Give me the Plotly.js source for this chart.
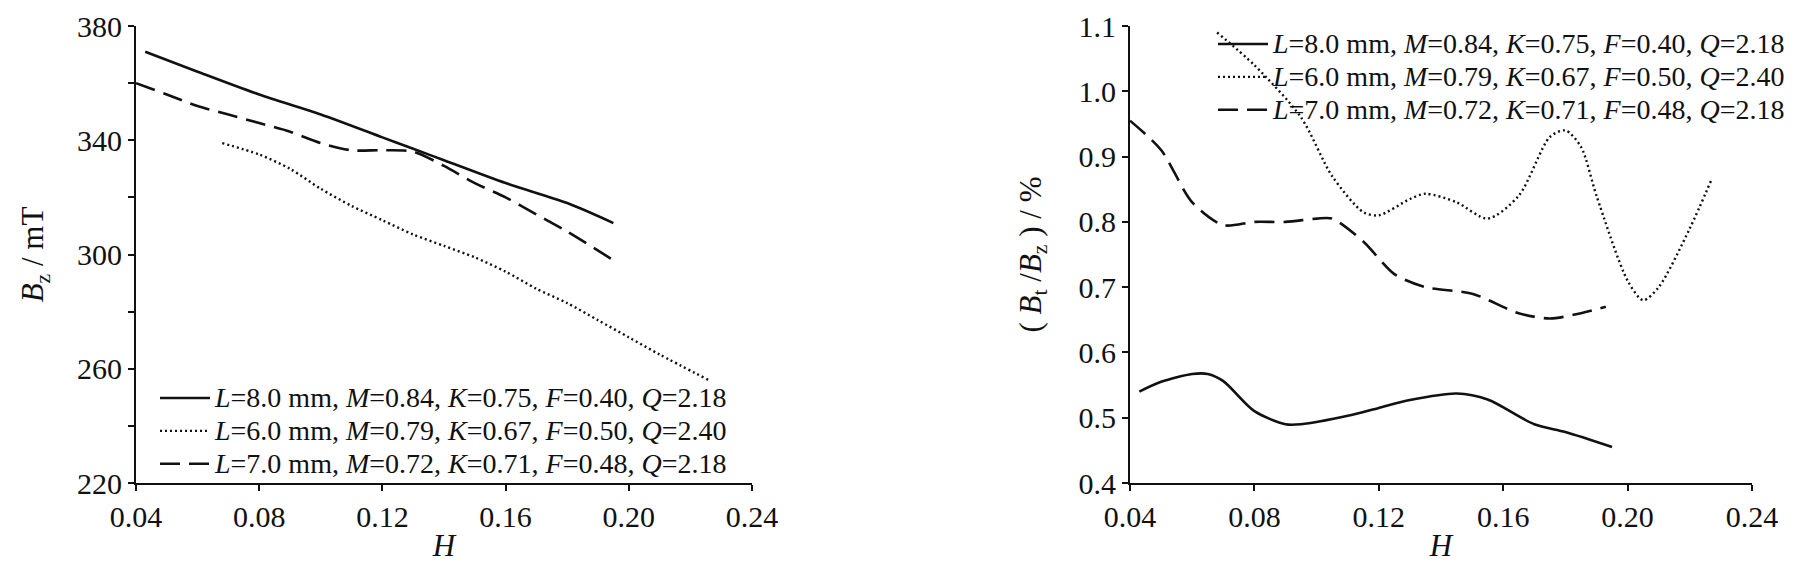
<!DOCTYPE html>
<html>
<head>
<meta charset="utf-8">
<script src="https://cdn.plot.ly/plotly-3.0.1.min.js"></script>
<style>html,body{margin:0;padding:0;background:#fff;}#chart{width:1806px;height:576px;}</style>
</head>
<body>
<div id="chart"></div>
<script>
// ---- data ----
const seriesNames = [
  "<i>L</i>=8.0 mm, <i>M</i>=0.84, <i>K</i>=0.75, <i>F</i>=0.40, <i>Q</i>=2.18",
  "<i>L</i>=6.0 mm, <i>M</i>=0.79, <i>K</i>=0.67, <i>F</i>=0.50, <i>Q</i>=2.40",
  "<i>L</i>=7.0 mm, <i>M</i>=0.72, <i>K</i>=0.71, <i>F</i>=0.48, <i>Q</i>=2.18"
];
// Left panel: Bz (mT) vs H
const bzH_L8 = [0.043, 0.06, 0.08, 0.10, 0.12, 0.13, 0.14, 0.16, 0.18, 0.195];
const bz_L8  = [371, 364, 356, 349, 341, 337, 333, 325, 318, 311];
const bzH_L6 = [0.068, 0.08, 0.09, 0.10, 0.11, 0.12, 0.13, 0.14, 0.15, 0.16, 0.17, 0.18, 0.19, 0.20, 0.21, 0.226];
const bz_L6  = [339, 335, 330, 323, 317, 312, 307, 303, 299, 294, 288, 283, 277, 271, 265, 256];
const bzH_L7 = [0.04, 0.05, 0.06, 0.07, 0.08, 0.09, 0.10, 0.11, 0.12, 0.13, 0.14, 0.15, 0.16, 0.17, 0.18, 0.195];
const bz_L7  = [360, 356, 352, 349, 346, 343, 339, 336.5, 336.5, 336, 331, 325, 320, 314, 308, 298];
// Right panel: (Bt/Bz) % vs H
const rH_L8 = [0.043, 0.05, 0.06, 0.065, 0.07, 0.08, 0.09, 0.095, 0.11, 0.12, 0.13, 0.145, 0.155, 0.17, 0.18, 0.195];
const r_L8  = [0.54, 0.555, 0.567, 0.567, 0.556, 0.51, 0.49, 0.49, 0.503, 0.515, 0.527, 0.537, 0.528, 0.49, 0.478, 0.455];
const rH_L6 = [0.068, 0.08, 0.095, 0.105, 0.115, 0.12, 0.13, 0.135, 0.145, 0.155, 0.165, 0.175, 0.18, 0.185, 0.19, 0.20, 0.205, 0.21, 0.22, 0.227];
const r_L6  = [1.09, 1.04, 0.96, 0.87, 0.815, 0.81, 0.835, 0.843, 0.83, 0.805, 0.84, 0.93, 0.94, 0.915, 0.84, 0.71, 0.68, 0.70, 0.79, 0.865];
const rH_L7 = [0.04, 0.05, 0.06, 0.07, 0.08, 0.09, 0.10, 0.105, 0.115, 0.125, 0.135, 0.15, 0.165, 0.175, 0.185, 0.193];
const r_L7  = [0.955, 0.91, 0.83, 0.795, 0.80, 0.80, 0.805, 0.805, 0.77, 0.72, 0.70, 0.69, 0.66, 0.652, 0.66, 0.67];

const xTicks = [0.04, 0.08, 0.12, 0.16, 0.20, 0.24];
const leftYTicks = [220, 260, 300, 340, 380];
const rightYTicks = [0.4, 0.5, 0.6, 0.7, 0.8, 0.9, 1.0, 1.1];

// ---- styling ----
const FONT = "Liberation Serif";
const W = 1806, H = 576;
const styles = [
  {color: "#111", width: 2.6, dash: "solid"},
  {color: "#111", width: 2.4, dash: "2px,3px"},
  {color: "#111", width: 2.6, dash: "20px,9px"}
];
function legendLabel(s) { return '<span style="font-size:28px">' + s + '</span>'; }
function tr(x, y, i, xa, ya, leg) {
  return {x: x, y: y, type: "scatter", mode: "lines", name: legendLabel(seriesNames[i]),
    line: Object.assign({shape: "spline", smoothing: 0.8}, styles[i]),
    xaxis: xa, yaxis: ya, legend: leg, showlegend: true, hoverinfo: "skip"};
}
const data = [
  tr(bzH_L8, bz_L8, 0, "x", "y", "legend"),
  tr(bzH_L6, bz_L6, 1, "x", "y", "legend"),
  tr(bzH_L7, bz_L7, 2, "x", "y", "legend"),
  tr(rH_L8, r_L8, 0, "x2", "y2", "legend2"),
  tr(rH_L6, r_L6, 1, "x2", "y2", "legend2"),
  tr(rH_L7, r_L7, 2, "x2", "y2", "legend2")
];
const tickFont = {family: FONT, size: 30, color: "#111"};
const titleFont = {family: FONT, size: 31, color: "#111"};
const axCommon = {showline: true, linecolor: "#111", linewidth: 2, ticks: "outside", ticklen: 6,
  tickwidth: 2, tickcolor: "#111", showgrid: false, zeroline: false, mirror: false,
  tickfont: tickFont, automargin: false, fixedrange: true};
const yDom = [1 - 483 / H, 1 - 26 / H];
const legendCommon = {xanchor: "left", yanchor: "middle", bgcolor: "rgba(0,0,0,0)",
  font: {family: FONT, size: 23, color: "#111"}, tracegroupgap: 0, itemwidth: 50, itemclick: false};
const layout = {
  width: W, height: H, margin: {l: 0, r: 0, t: 0, b: 0},
  paper_bgcolor: "#fff", plot_bgcolor: "#fff", showlegend: true,
  font: {family: FONT, color: "#111", size: 28},
  xaxis: Object.assign({}, axCommon, {domain: [136 / W, 752 / W], range: [0.04, 0.24],
    tickvals: xTicks, tickformat: ".2f", anchor: "y",
    title: {text: "<i>H</i>", font: titleFont, standoff: 2}}),
  yaxis: Object.assign({}, axCommon, {domain: yDom, range: [220, 380], tickvals: leftYTicks, anchor: "x",
    minor: {dtick: 20, ticklen: 6, tickwidth: 2, tickcolor: "#111", ticks: "outside"},
    title: {text: "<i>B</i><sub>z</sub> / mT", font: titleFont, standoff: 24}}),
  xaxis2: Object.assign({}, axCommon, {domain: [1130 / W, 1752 / W], range: [0.04, 0.24],
    tickvals: xTicks, tickformat: ".2f", anchor: "y2",
    title: {text: "<i>H</i>", font: titleFont, standoff: 2}}),
  yaxis2: Object.assign({}, axCommon, {domain: yDom, range: [0.4, 1.1], tickvals: rightYTicks,
    tickformat: ".1f", anchor: "x2",
    title: {text: "( <i>B</i><sub>t</sub> /<i>B</i><sub>z</sub> ) / %", font: titleFont, standoff: 28}}),
  legend: Object.assign({}, legendCommon, {x: 155 / W, y: 1 - 431 / H}),
  legend2: Object.assign({}, legendCommon, {x: 1213 / W, y: 1 - 77 / H})
};
Plotly.newPlot("chart", data, layout, {displayModeBar: false, staticPlot: true});
</script>
</body>
</html>
